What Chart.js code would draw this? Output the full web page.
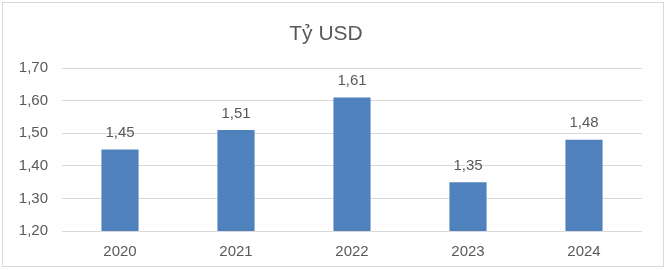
<!DOCTYPE html>
<html>
<head>
<meta charset="utf-8">
<script src="https://cdn.jsdelivr.net/npm/chart.js@4/dist/chart.umd.min.js"></script>
<style>
html,body{margin:0;padding:0;background:#fff;}
#wrap{position:absolute;left:0;top:0;width:668px;height:270px;}
#frame{position:absolute;left:2px;top:2px;width:662px;height:265px;border:1px solid #d9d9d9;box-sizing:border-box;pointer-events:none;}
canvas{display:block;}
</style>
</head>
<body>
<div id="wrap"><canvas id="c" width="668" height="270"></canvas><div id="frame"></div></div>
<script>
const categories = ['2020', '2021', '2022', '2023', '2024'];
const values = [1.45, 1.51, 1.61, 1.35, 1.48];
const titleText = 'Tỷ USD';
const yMin = 1.2, yMax = 1.7, yStep = 0.1;

const FONT = "'Liberation Sans', Arial, sans-serif";
const TXT = '#595959';
const fmt = v => v.toFixed(2).replace('.', ',');

const labelPlugin = {
  id: 'barLabels',
  afterDatasetsDraw(chart) {
    const ctx = chart.ctx;
    const meta = chart.getDatasetMeta(0);
    ctx.save();
    ctx.font = '15px ' + FONT;
    ctx.fillStyle = TXT;
    ctx.textAlign = 'center';
    ctx.textBaseline = 'bottom';
    meta.data.forEach((bar, i) => {
      ctx.fillText(fmt(values[i]), bar.x, bar.y - 9);
    });
    ctx.restore();
  }
};

new Chart(document.getElementById('c'), {
  type: 'bar',
  data: {
    labels: categories,
    datasets: [{
      data: values,
      backgroundColor: '#4F81BD',
      borderWidth: 0,
      barPercentage: 0.64,
      categoryPercentage: 0.5
    }]
  },
  options: {
    responsive: false,
    animation: false,
    devicePixelRatio: 1,
    layout: { padding: { top: 12, left: 10, right: 26, bottom: 0 } },
    plugins: {
      legend: { display: false },
      tooltip: { enabled: false },
      title: {
        display: true,
        text: titleText,
        color: TXT,
        font: { family: FONT, size: 21, weight: 'normal' },
        padding: { top: 10, bottom: 21 }
      }
    },
    scales: {
      x: {
        grid: { display: false, drawTicks: false },
        border: { display: false },
        ticks: { color: TXT, font: { family: FONT, size: 15 }, padding: 12 },
        afterFit(s) { s.height = 39; }
      },
      y: {
        min: yMin, max: yMax,
        grid: { color: '#d9d9d9', drawTicks: false, lineWidth: 1 },
        border: { display: false },
        ticks: {
          stepSize: yStep,
          color: TXT,
          font: { family: FONT, size: 15 },
          padding: 14,
          callback: v => fmt(v)
        },
        afterFit(s) { s.width = 52; }
      }
    }
  },
  plugins: [labelPlugin]
});
</script>
</body>
</html>
